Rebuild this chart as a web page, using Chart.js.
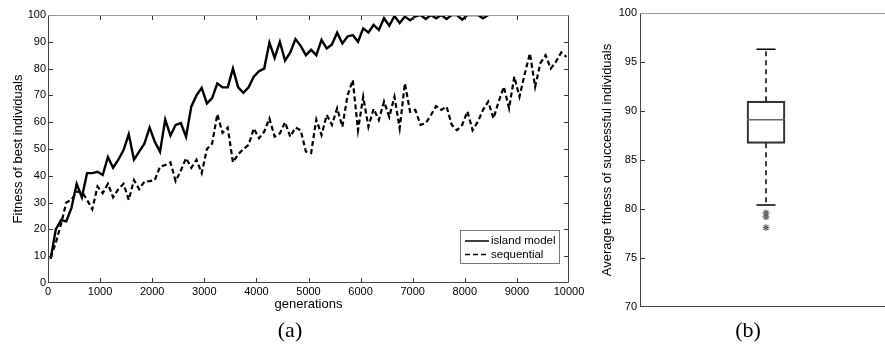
<!DOCTYPE html>
<html>
<head>
<meta charset="utf-8">
<script src="https://cdn.jsdelivr.net/npm/chart.js@4.4.0/dist/chart.umd.min.js"></script>
<style>
    html, body { margin: 0; padding: 0; background: #fff; width: 885px; height: 349px; overflow: hidden; }
    #lineChart { position: absolute; left: 0; top: 0; }
    #boxChart { position: absolute; left: 570px; top: 0; }
    .cap { position: absolute; top: 317px; font-family: "Liberation Serif", "DejaVu Serif", serif; font-size: 22px; color: #000; transform: translateX(-50%); }
</style>
</head>
<body>
<canvas id="lineChart" width="600" height="349"></canvas>
<canvas id="boxChart" width="330" height="349"></canvas>
<div class="cap" style="left:290px">(a)</div>
<div class="cap" style="left:748px">(b)</div>
<script>
// sampled generations (every 100)
const generations = Array.from({ length: 100 }, (_, i) => 50 + i * 100);

const islandModel = [
    9, 20, 23.5, 23, 28, 37, 32, 41, 41, 41.5,
    40.3, 47, 43, 46, 49.6, 55.5, 46, 49, 52, 58,
    52.7, 49, 61, 55, 59, 59.7, 54.6, 65.8, 70, 72.8,
    67, 69, 74.5, 73, 73, 80, 73, 71, 73, 77,
    79, 80, 89.7, 84, 90, 83, 86, 91, 88.5, 85,
    87, 85, 90.7, 87.5, 89, 93.4, 89.4, 92, 92.5, 90,
    95, 93.5, 96.3, 94.4, 98.8, 96, 99.6, 97, 99.4, 98,
    99.5, 100, 98.5, 100, 98.8, 100, 98.5, 100, 100, 98.3,
    100, 100, 100, 98.8, 100, null, null, null, null, null,
    null, null, null, null, null, null, null, null, null, null
];

const sequential = [
    9.5, 15, 22, 30, 31, 34, 34, 31, 27.5, 36,
    33.5, 37, 32, 35, 37, 31, 38.4, 35, 37.8, 38,
    38.4, 43.4, 44, 45, 38, 42, 46.6, 43, 46, 41,
    50, 52, 63, 56, 58, 45, 48, 50, 51.5, 57.7,
    54, 56.5, 61.4, 54.6, 55.8, 60, 54.6, 58, 57, 49,
    48.5, 61, 55.2, 62.7, 59, 65.2, 58.3, 70, 75.7, 57,
    69.5, 58.3, 65, 60.8, 67.7, 62, 69.5, 57.7, 74.5, 63.9,
    64.6, 59, 59.6, 62.7, 66, 64.6, 65.8, 59, 57, 59,
    64, 57, 60.2, 64.6, 67.7, 61.4, 67.7, 73.2, 65.2, 77,
    69.5, 78, 85.7, 73.2, 82, 85, 80, 82.6, 86, 84.4
];

// box plot (b): whisker low, Q1, median, Q3, whisker high
const boxStats = [80.4, 86.7, 89.1, 91.0, 96.3];
const outliers = [79.6, 79.2, 78.1];

const FONT = '"Liberation Sans", Arial, sans-serif';
Chart.defaults.font.family = FONT;
Chart.defaults.font.size = 11;
Chart.defaults.color = '#000';

// MATLAB-like frame with inward ticks
const frameTicks = {
    id: 'frameTicks',
    afterDatasetsDraw(chart, args, opts) {
        const { ctx, chartArea: a, scales } = chart;
        const line = (x1, y1, x2, y2) => { ctx.beginPath(); ctx.moveTo(x1, y1); ctx.lineTo(x2, y2); ctx.stroke(); };
        const L = 5;
        ctx.save();
        ctx.lineWidth = 1;
        ctx.strokeStyle = '#333';
        if (opts.xTicks) {
            scales.x.ticks.slice(1, -1).forEach(t => {
                const px = Math.round(scales.x.getPixelForValue(t.value)) + 0.5;
                line(px, a.bottom, px, a.bottom - L);
                line(px, a.top, px, a.top + L);
            });
        }
        scales.y.ticks.slice(1, -1).forEach(t => {
            const py = Math.round(scales.y.getPixelForValue(t.value)) + 0.5;
            line(a.left, py, a.left + L, py);
            line(a.right, py, a.right - L, py);
        });
        const l = Math.round(a.left) + 0.5, r = Math.round(a.right) - 0.5;
        const t = Math.round(a.top) + 0.5, b = Math.round(a.bottom) - 0.5;
        ctx.strokeStyle = '#999';
        line(l, t, r, t);
        ctx.strokeStyle = '#444';
        line(l, t, l, b + 0.5);
        line(l, b, r, b);
        line(r, t, r, b);
        ctx.restore();
    }
};

// legend box inside the plot, lower right
const boxLegend = {
    id: 'boxLegend',
    afterDraw(chart) {
        const { ctx, chartArea: a } = chart;
        const w = 99, h = 33;
        const x0 = Math.round(a.right - 10 - w), y0 = Math.round(a.bottom - 20 - h);
        ctx.save();
        ctx.fillStyle = '#fff';
        ctx.fillRect(x0, y0, w, h);
        ctx.strokeStyle = '#777';
        ctx.lineWidth = 1;
        ctx.strokeRect(x0 + 0.5, y0 + 0.5, w, h);
        chart.data.datasets.forEach((ds, i) => {
            const y = y0 + 11 + i * 13.5;
            ctx.setLineDash(ds.borderDash || []);
            ctx.strokeStyle = ds.borderColor;
            ctx.lineWidth = 1.5;
            ctx.beginPath(); ctx.moveTo(x0 + 5, y); ctx.lineTo(x0 + 29, y); ctx.stroke();
            ctx.setLineDash([]);
            ctx.fillStyle = '#000';
            ctx.font = '11.5px ' + FONT;
            ctx.textBaseline = 'middle';
            ctx.fillText(ds.label, x0 + 31, y);
        });
        ctx.restore();
    }
};

const plainTick = v => String(v);

new Chart(document.getElementById('lineChart'), {
    type: 'line',
    data: {
        datasets: [{
            label: 'island model',
            data: generations.map((g, i) => ({ x: g, y: islandModel[i] })),
            borderColor: '#000',
            borderWidth: 2.4,
            pointRadius: 0,
            spanGaps: false,
            tension: 0
        }, {
            label: 'sequential',
            data: generations.map((g, i) => ({ x: g, y: sequential[i] })),
            borderColor: '#000',
            borderWidth: 2.2,
            borderDash: [5, 3],
            pointRadius: 0,
            tension: 0
        }]
    },
    options: {
        responsive: false,
        animation: false,
        layout: { padding: { left: 11, right: 31, top: 15, bottom: 37 } },
        plugins: {
            legend: { display: false },
            tooltip: { enabled: false },
            frameTicks: { xTicks: true }
        },
        scales: {
            x: {
                type: 'linear', min: 0, max: 10000,
                grid: { display: false, drawTicks: false },
                border: { display: false },
                ticks: { stepSize: 1000, padding: 2, maxRotation: 0, callback: plainTick },
                title: { display: true, text: 'generations', font: { size: 13 }, padding: { top: 0, bottom: 0 } },
                afterFit: s => { s.height = 29; }
            },
            y: {
                min: 0, max: 100,
                grid: { display: false, drawTicks: false },
                border: { display: false },
                ticks: { stepSize: 10, padding: 2, callback: plainTick },
                title: { display: true, text: 'Fitness of best individuals', font: { size: 13 }, padding: { top: 0, bottom: 0 } },
                afterFit: s => { s.width = 37; }
            }
        }
    },
    plugins: [frameTicks, boxLegend]
});

// whiskers, caps and median for the box
const boxParts = {
    id: 'boxParts',
    afterDatasetsDraw(chart) {
        const { ctx, scales: { y } } = chart;
        const bar = chart.getDatasetMeta(0).data[0];
        const cx = bar.x, half = bar.width / 2;
        const [lo, q1, med, q3, hi] = boxStats;
        ctx.save();
        ctx.strokeStyle = '#000';
        ctx.lineWidth = 1.5;
        ctx.setLineDash([5, 4]);
        ctx.beginPath();
        ctx.moveTo(cx, y.getPixelForValue(q3)); ctx.lineTo(cx, y.getPixelForValue(hi));
        ctx.moveTo(cx, y.getPixelForValue(q1)); ctx.lineTo(cx, y.getPixelForValue(lo));
        ctx.stroke();
        ctx.setLineDash([]);
        ctx.beginPath();
        ctx.moveTo(cx - half / 2, y.getPixelForValue(hi)); ctx.lineTo(cx + half / 2, y.getPixelForValue(hi));
        ctx.moveTo(cx - half / 2, y.getPixelForValue(lo)); ctx.lineTo(cx + half / 2, y.getPixelForValue(lo));
        ctx.stroke();
        ctx.strokeStyle = '#666';
        ctx.beginPath();
        ctx.moveTo(cx - half, y.getPixelForValue(med)); ctx.lineTo(cx + half, y.getPixelForValue(med));
        ctx.stroke();
        ctx.restore();
    }
};

new Chart(document.getElementById('boxChart'), {
    type: 'bar',
    data: {
        labels: ['run'],
        datasets: [{
            label: 'box',
            data: [[boxStats[1], boxStats[3]]],
            backgroundColor: 'rgba(255,255,255,0)',
            borderColor: '#333',
            borderWidth: 1.5,
            borderSkipped: false,
            barThickness: 38
        }, {
            type: 'line',
            label: 'outliers',
            data: outliers.map(v => ({ x: 'run', y: v })),
            showLine: false,
            pointStyle: 'star',
            pointRadius: 3.5,
            borderColor: '#666',
            borderWidth: 1.2
        }]
    },
    options: {
        responsive: false,
        animation: false,
        layout: { padding: { left: 30, right: 8, top: 13, bottom: 42 } },
        plugins: {
            legend: { display: false },
            tooltip: { enabled: false },
            frameTicks: { xTicks: false }
        },
        scales: {
            x: { display: false, offset: true },
            y: {
                min: 70, max: 100,
                grid: { display: false, drawTicks: false },
                border: { display: false },
                ticks: { stepSize: 5, padding: 3, callback: plainTick },
                title: { display: true, text: 'Average fitness of successful individuals', font: { size: 13 }, padding: { top: 0, bottom: 0 } },
                afterFit: s => { s.width = 40; }
            }
        }
    },
    plugins: [frameTicks, boxParts]
});
</script>
</body>
</html>
